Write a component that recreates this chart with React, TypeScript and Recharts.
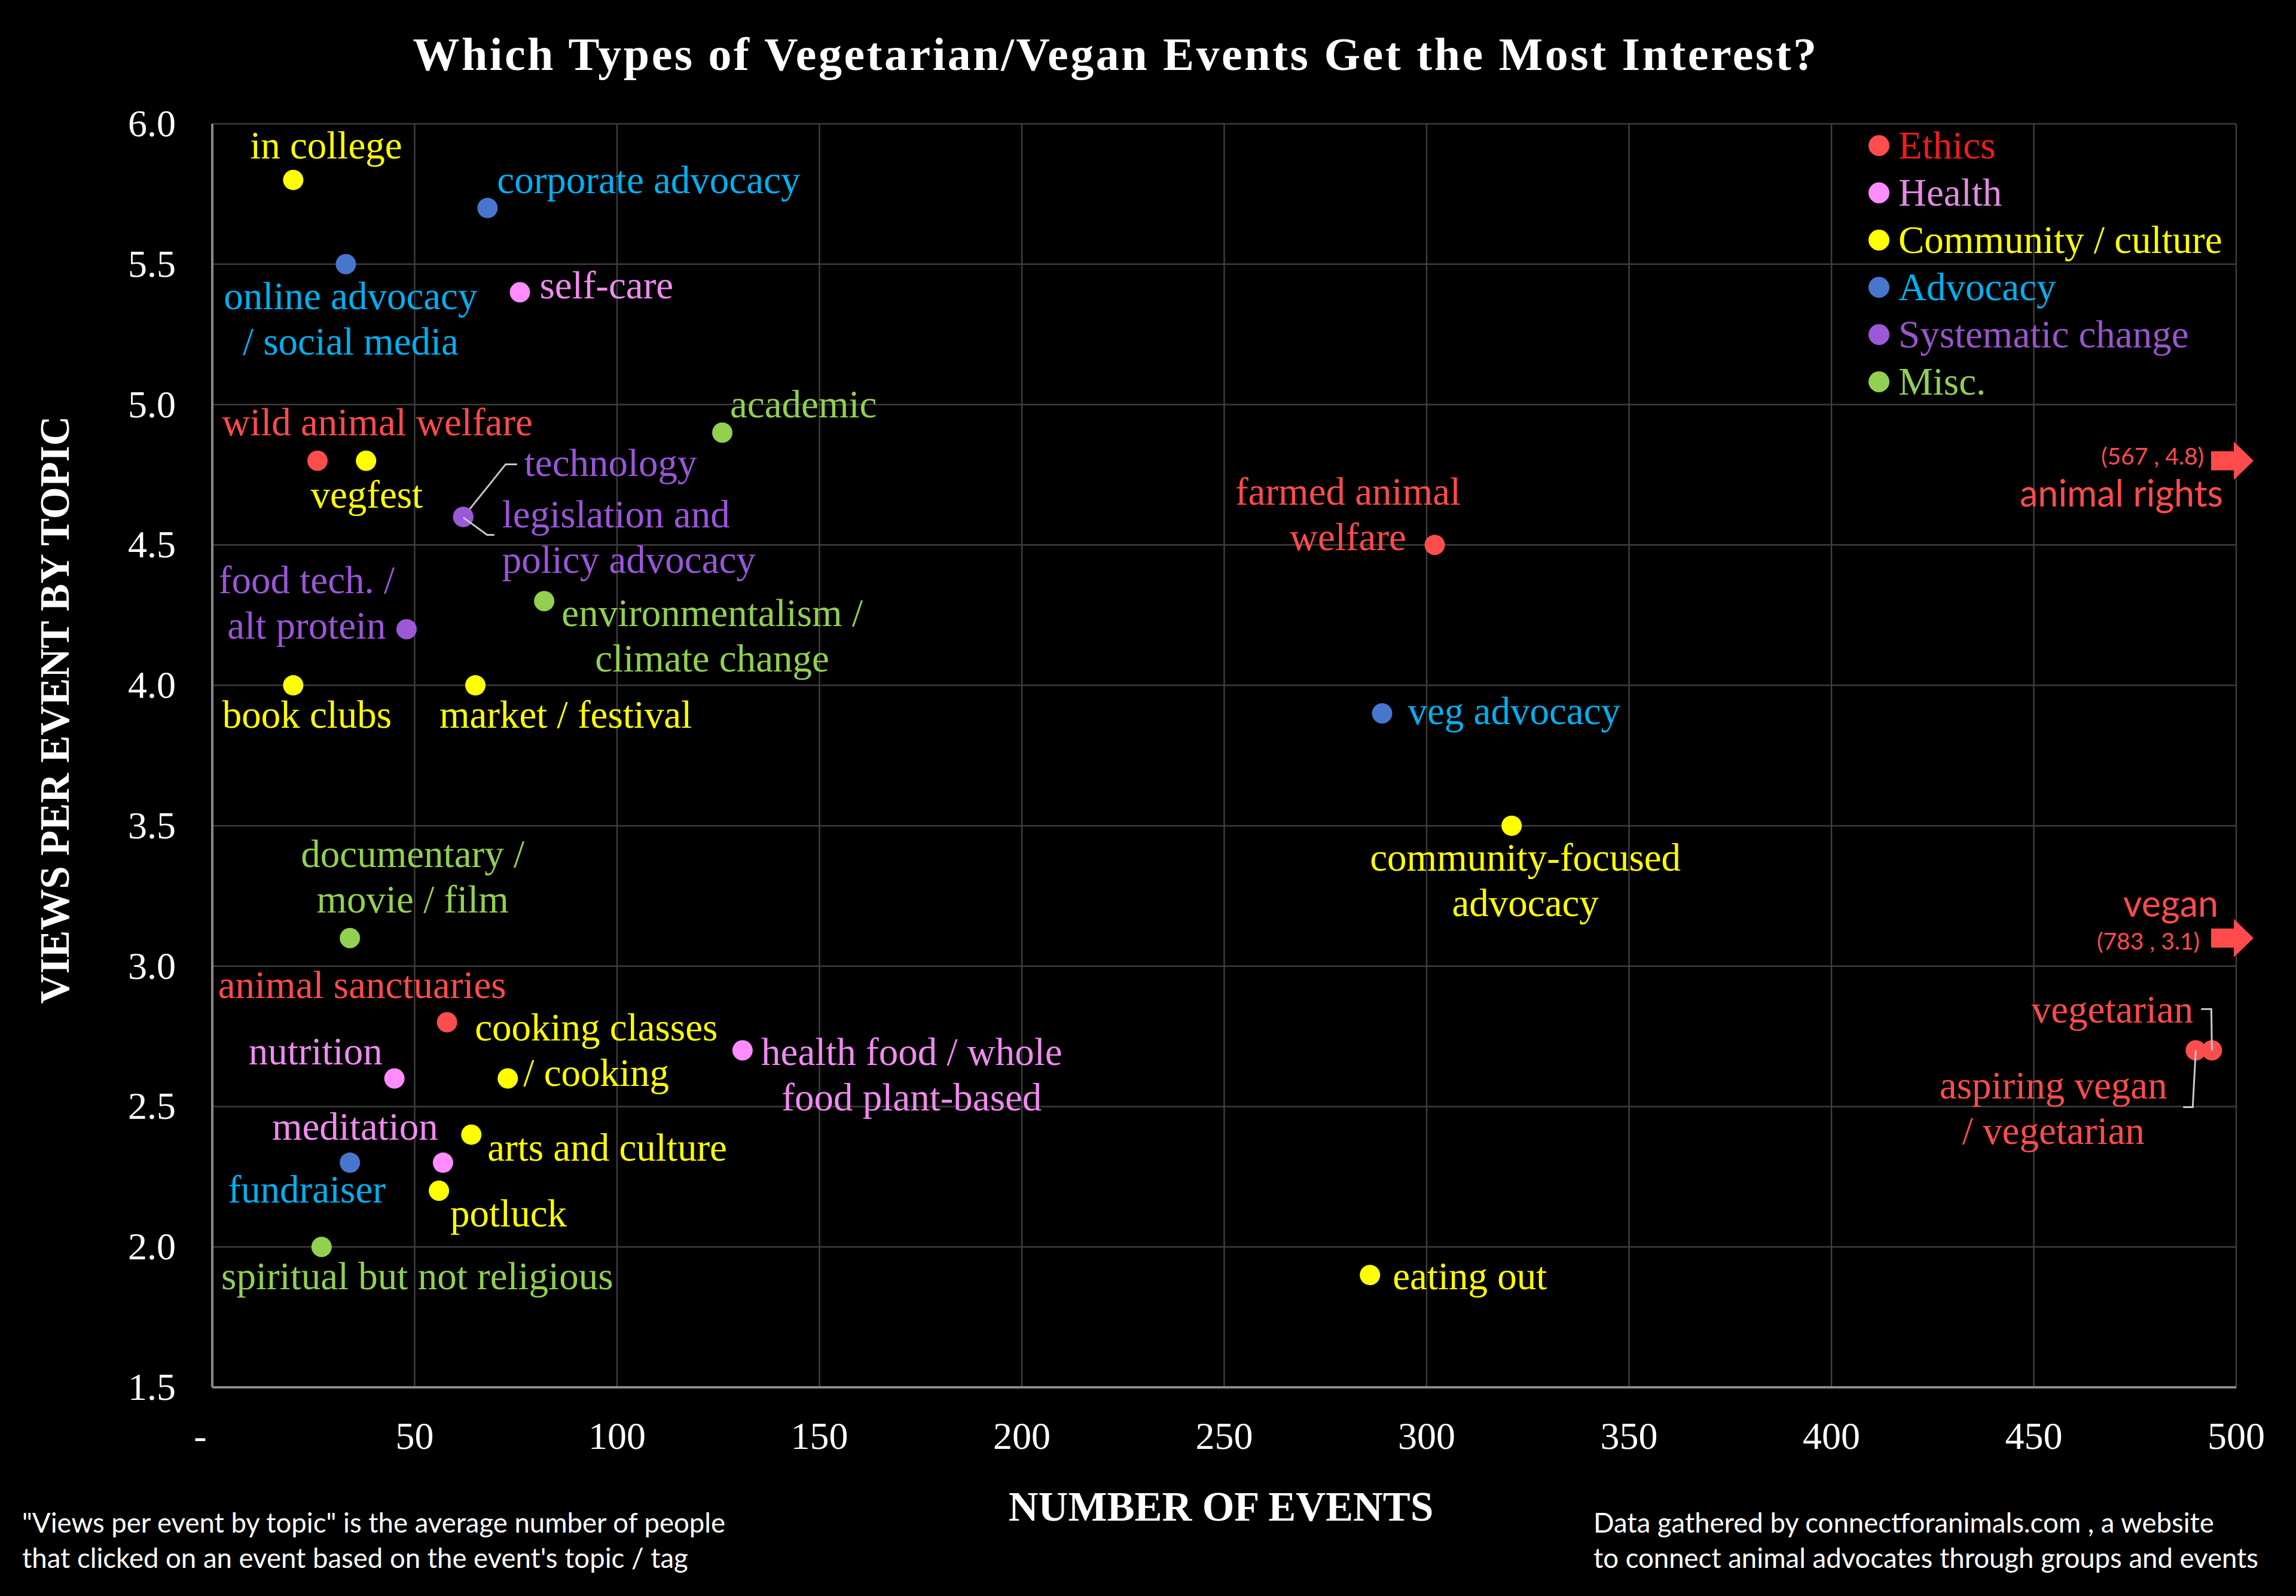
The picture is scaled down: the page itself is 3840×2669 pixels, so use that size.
import React from 'react'
import { ScatterChart, Scatter, XAxis, YAxis, CartesianGrid, Legend } from 'recharts'

const W = 3840
const H = 2669
const SERIF = '"Liberation Serif", "Times New Roman", serif'
const SANS = 'Lato, "Open Sans", sans-serif'

// ---- data ----
const categories = ['Ethics', 'Health', 'Community / culture', 'Advocacy', 'Systematic change', 'Misc.']

const ethicsTopics = ['wild animal welfare', 'farmed animal welfare', 'animal sanctuaries', 'vegetarian', 'aspiring vegan / vegetarian']
const ethicsEvents = [26, 302, 58, 494, 490]
const ethicsViews = [4.8, 4.5, 2.8, 2.7, 2.7]

const healthTopics = ['self-care', 'nutrition', 'health food / whole food plant-based', 'meditation']
const healthEvents = [76, 45, 131, 57]
const healthViews = [5.4, 2.6, 2.7, 2.3]

const communityTopics = ['in college', 'vegfest', 'book clubs', 'market / festival', 'community-focused advocacy', 'cooking classes / cooking', 'arts and culture', 'potluck', 'eating out']
const communityEvents = [20, 38, 20, 65, 321, 73, 64, 56, 286]
const communityViews = [5.8, 4.8, 4.0, 4.0, 3.5, 2.6, 2.4, 2.2, 1.9]

const advocacyTopics = ['corporate advocacy', 'online advocacy / social media', 'veg advocacy', 'fundraiser']
const advocacyEvents = [68, 33, 289, 34]
const advocacyViews = [5.7, 5.5, 3.9, 2.3]

const systemTopics = ['technology', 'legislation and policy advocacy', 'food tech. / alt protein']
const systemEvents = [62, 62, 48]
const systemViews = [4.6, 4.6, 4.2]

const miscTopics = ['academic', 'environmentalism / climate change', 'documentary / movie / film', 'spiritual but not religious']
const miscEvents = [126, 82, 34, 27]
const miscViews = [4.9, 4.3, 3.1, 2.0]

// topics beyond the x range, drawn as arrows on the right edge
const offTopics = ['animal rights', 'vegan']
const offEvents = [567, 783]
const offViews = [4.8, 3.1]

const xTicks = [0, 50, 100, 150, 200, 250, 300, 350, 400, 450, 500]
const yTicks = [1.5, 2.0, 2.5, 3.0, 3.5, 4.0, 4.5, 5.0, 5.5, 6.0]
const X_MAX = 500

// ---- colours ----
const dotColors = ['#ff4d4d', '#ff8cff', '#ffff00', '#4876cf', '#9b59d8', '#92d050']
const textColors = ['#ff4b4b', '#f08af0', '#ffff00', '#00b0f0', '#9a55d8', '#92d050']
const legendColors = ['#f01c1c', '#e28be2', '#ffff00', '#00b0f0', '#9955cc', '#92d050']

// ---- label placement (px offsets from the dot centre) ----
type LabelSpec = {
  lines: string[]
  anchor: 'start' | 'middle' | 'end'
  dx: number
  dy: number
  lead?: number[][]
}
const LH = 76
const labelSpecs: Record<string, LabelSpec> = {
  'wild animal welfare': { lines: ['wild animal welfare'], anchor: 'middle', dx: 100, dy: -42 },
  'farmed animal welfare': { lines: ['farmed animal', 'welfare'], anchor: 'middle', dx: -145, dy: -67 },
  'animal sanctuaries': { lines: ['animal sanctuaries'], anchor: 'middle', dx: -142, dy: -41 },
  'vegetarian': { lines: ['vegetarian'], anchor: 'end', dx: -31, dy: -47, lead: [[-18, -69], [-1, -69], [0, 0]] },
  'aspiring vegan / vegetarian': { lines: ['aspiring vegan', '/ vegetarian'], anchor: 'middle', dx: -238, dy: 80, lead: [[0, 0], [-5, 95], [-21, 95]] },
  'self-care': { lines: ['self-care'], anchor: 'start', dx: 33, dy: 10 },
  'nutrition': { lines: ['nutrition'], anchor: 'end', dx: -20, dy: -23 },
  'health food / whole food plant-based': { lines: ['health food / whole', 'food plant-based'], anchor: 'middle', dx: 283, dy: 24 },
  'meditation': { lines: ['meditation'], anchor: 'end', dx: -8, dy: -38 },
  'in college': { lines: ['in college'], anchor: 'middle', dx: 55, dy: -36 },
  'vegfest': { lines: ['vegfest'], anchor: 'middle', dx: 1, dy: 79 },
  'book clubs': { lines: ['book clubs'], anchor: 'middle', dx: 23, dy: 71 },
  'market / festival': { lines: ['market / festival'], anchor: 'middle', dx: 151, dy: 71 },
  'community-focused advocacy': { lines: ['community-focused', 'advocacy'], anchor: 'middle', dx: 23, dy: 75 },
  'cooking classes / cooking': { lines: ['cooking classes', '/ cooking'], anchor: 'middle', dx: 148, dy: -63 },
  'arts and culture': { lines: ['arts and culture'], anchor: 'start', dx: 27, dy: 44 },
  'potluck': { lines: ['potluck'], anchor: 'start', dx: 19, dy: 60 },
  'eating out': { lines: ['eating out'], anchor: 'start', dx: 38, dy: 24 },
  'corporate advocacy': { lines: ['corporate advocacy'], anchor: 'start', dx: 16, dy: -25 },
  'online advocacy / social media': { lines: ['online advocacy', '/ social media'], anchor: 'middle', dx: 8, dy: 75 },
  'veg advocacy': { lines: ['veg advocacy'], anchor: 'start', dx: 43, dy: 18 },
  'fundraiser': { lines: ['fundraiser'], anchor: 'middle', dx: -72, dy: 67 },
  'technology': { lines: ['technology'], anchor: 'start', dx: 102, dy: -68, lead: [[2, -2], [71, -88], [90, -88]] },
  'legislation and policy advocacy': { lines: ['legislation and', 'policy advocacy'], anchor: 'start', dx: 65, dy: 18, lead: [[0, 1], [40, 30], [52, 30]] },
  'food tech. / alt protein': { lines: ['food tech. /', 'alt protein'], anchor: 'middle', dx: -167, dy: -60 },
  'academic': { lines: ['academic'], anchor: 'start', dx: 13, dy: -26 },
  'environmentalism / climate change': { lines: ['environmentalism /', 'climate change'], anchor: 'middle', dx: 281, dy: 42 },
  'documentary / movie / film': { lines: ['documentary /', 'movie / film'], anchor: 'middle', dx: 105, dy: -119 },
  'spiritual but not religious': { lines: ['spiritual but not religious'], anchor: 'middle', dx: 160, dy: 71 },
}

const arrowSpecs: Record<string, { nameDx: number; nameDy: number; coordDx: number; coordDy: number }> = {
  'animal rights': { nameDx: -22, nameDy: 77, coordDx: -54, coordDy: 7 },
  'vegan': { nameDx: -30, nameDy: -36, coordDx: -61, coordDy: 19 },
}

const toPoints = (topics: string[], events: number[], views: number[]) =>
  topics.map((name, i) => ({ name, x: events[i], y: views[i] }))

const series = [
  toPoints(ethicsTopics, ethicsEvents, ethicsViews),
  toPoints(healthTopics, healthEvents, healthViews),
  toPoints(communityTopics, communityEvents, communityViews),
  toPoints(advocacyTopics, advocacyEvents, advocacyViews),
  toPoints(systemTopics, systemEvents, systemViews),
  toPoints(miscTopics, miscEvents, miscViews),
]

const offPoints = offTopics.map((name, i) => ({
  name,
  events: offEvents[i],
  views: offViews[i],
  x: Math.min(offEvents[i], X_MAX),
  y: offViews[i],
}))

function makeDot(cat: number) {
  return function Dot(props: any) {
    const { cx, cy, payload } = props
    const spec = labelSpecs[payload.name]
    const tx = cx + spec.dx
    return (
      <g>
        <circle cx={cx} cy={cy} r={17} fill={dotColors[cat]} />
        {spec.lead && (
          <polyline
            points={spec.lead.map(p => `${cx + p[0]},${cy + p[1]}`).join(' ')}
            fill="none"
            stroke="#c8c8c8"
            strokeWidth={3}
          />
        )}
        <text x={tx} y={cy + spec.dy} textAnchor={spec.anchor} fill={textColors[cat]} fontFamily={SERIF} fontSize={65}>
          {spec.lines.map((l, i) => (
            <tspan key={i} x={tx} dy={i === 0 ? 0 : LH}>{l}</tspan>
          ))}
        </text>
      </g>
    )
  }
}

function OffScaleArrow(props: any) {
  const { cx, cy, payload } = props
  const s = arrowSpecs[payload.name]
  const d = `M${cx - 42},${cy - 16} L${cx - 4},${cy - 16} L${cx - 4},${cy - 32} L${cx + 29},${cy} L${cx - 4},${cy + 32} L${cx - 4},${cy + 16} L${cx - 42},${cy + 16} Z`
  return (
    <g>
      <path d={d} fill="#ff4b4b" />
      <text x={cx + s.coordDx} y={cy + s.coordDy} textAnchor="end" fill="#ff4b4b" fontFamily={SANS} fontSize={39}>
        {`(${payload.events} , ${payload.views.toFixed(1)})`}
      </text>
      <text x={cx + s.nameDx} y={cy + s.nameDy} textAnchor="end" fill="#ff4b4b" fontFamily={SANS} fontSize={61}>
        {payload.name}
      </text>
    </g>
  )
}

function XTick(props: any) {
  const { x, y, payload } = props
  const v = payload.value
  return (
    <text x={v === 0 ? x - 20 : x} y={y + 103} textAnchor="middle" fill="#ffffff" fontFamily={SERIF} fontSize={64}>
      {v === 0 ? '-' : v}
    </text>
  )
}

function YTick(props: any) {
  const { x, y, payload } = props
  return (
    <text x={x - 61} y={y + 21} textAnchor="end" fill="#ffffff" fontFamily={SERIF} fontSize={64}>
      {Number(payload.value).toFixed(1)}
    </text>
  )
}

function LegendBox() {
  return (
    <div style={{ display: 'flex', flexDirection: 'column' }}>
      {categories.map((c, i) => (
        <div key={c} style={{ display: 'flex', alignItems: 'center', height: 79 }}>
          <span style={{ width: 35, height: 35, borderRadius: '50%', background: dotColors[i], marginRight: 15, flex: 'none' }} />
          <span style={{ fontFamily: SERIF, fontSize: 65, lineHeight: '79px', color: legendColors[i], whiteSpace: 'nowrap' }}>{c}</span>
        </div>
      ))}
    </div>
  )
}

export default function App() {
  return (
    <>
      <style>{`body { margin: 0; background: #000; }`}</style>
      <div style={{ position: 'relative', width: W, height: H, background: '#000' }}>
        <ScatterChart width={W} height={H} margin={{ top: 207, right: 100, left: 0, bottom: 0 }}>
          <CartesianGrid stroke="#3d3d3d" strokeWidth={2.5} />
          <XAxis
            type="number"
            dataKey="x"
            domain={[0, X_MAX]}
            ticks={xTicks}
            height={349}
            tickSize={0}
            tickMargin={0}
            tickLine={false}
            axisLine={{ stroke: '#8a8a8a', strokeWidth: 4 }}
            tick={<XTick />}
          />
          <YAxis
            type="number"
            dataKey="y"
            domain={[1.5, 6]}
            ticks={yTicks}
            width={355}
            tickSize={0}
            tickMargin={0}
            tickLine={false}
            axisLine={{ stroke: '#8a8a8a', strokeWidth: 4 }}
            tick={<YTick />}
          />
          <Legend
            layout="vertical"
            align="center"
            verticalAlign="middle"
            content={() => <LegendBox />}
            wrapperStyle={{ top: 204, left: 3125, width: 'auto' }}
          />
          {series.map((data, i) => (
            <Scatter key={categories[i]} name={categories[i]} data={data} shape={makeDot(i)} isAnimationActive={false} />
          ))}
          <Scatter name="off scale" data={offPoints} shape={OffScaleArrow} legendType="none" isAnimationActive={false} />
        </ScatterChart>

        <svg width={W} height={H} style={{ position: 'absolute', left: 0, top: 0, pointerEvents: 'none' }}>
          <text x={1866} y={117} textAnchor="middle" fill="#ffffff" fontFamily={SERIF} fontWeight="bold" fontSize={78} letterSpacing={3.5}>
            Which Types of Vegetarian/Vegan Events Get the Most Interest?
          </text>
          <text x={2042} y={2543} textAnchor="middle" fill="#ffffff" fontFamily={SERIF} fontWeight="bold" fontSize={69}>
            NUMBER OF EVENTS
          </text>
          <text transform="translate(115,1187) rotate(-90)" textAnchor="middle" fill="#ffffff" fontFamily={SERIF} fontWeight="bold" fontSize={69}>
            VIEWS PER EVENT BY TOPIC
          </text>
          <text x={37} y={2563} fill="#ffffff" fontFamily={SANS} fontSize={45.5}>
            <tspan x={37}>"Views per event by topic" is the average number of people</tspan>
            <tspan x={37} dy={59}>that clicked on an event based on the event's topic / tag</tspan>
          </text>
          <text x={2665} y={2563} fill="#ffffff" fontFamily={SANS} fontSize={45.5}>
            <tspan x={2665}>Data gathered by connectforanimals.com , a website</tspan>
            <tspan x={2665} dy={59}>to connect animal advocates through groups and events</tspan>
          </text>
        </svg>
      </div>
    </>
  )
}
